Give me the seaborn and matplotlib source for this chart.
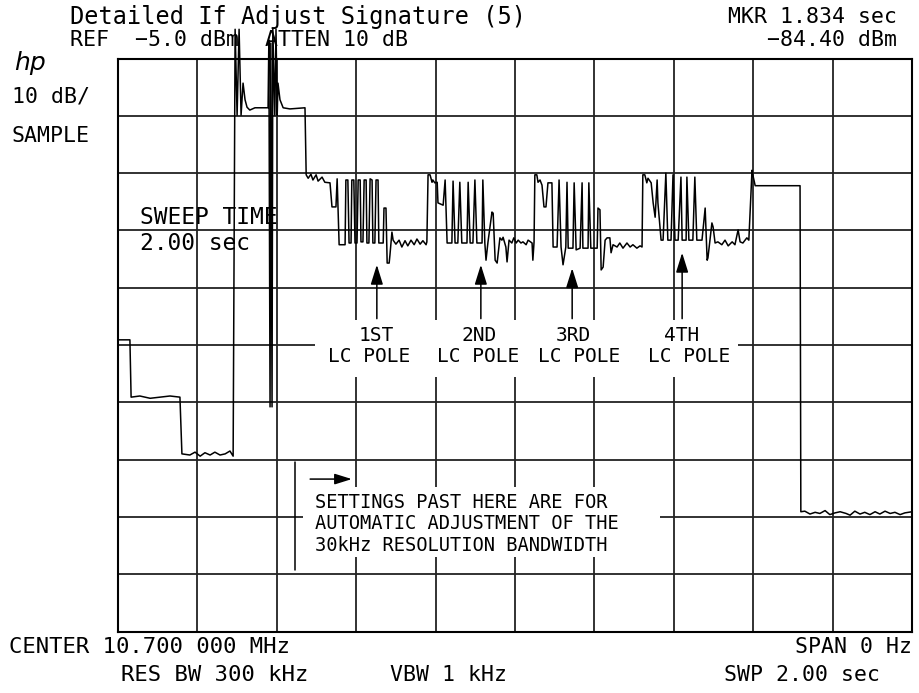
import numpy as np
import pandas as pd
import seaborn as sns
import matplotlib.pyplot as plt
from matplotlib.patches import Rectangle

# trace: sweep time (s) and level (dBm)
sweep_s = [
    0.000, 0.030, 0.033, 0.055, 0.081, 0.106, 0.131, 0.156, 0.161, 0.181,
    0.194, 0.207, 0.219, 0.232, 0.244, 0.257, 0.270, 0.282, 0.290, 0.295,
    0.300, 0.305, 0.310, 0.315, 0.320, 0.325, 0.332, 0.345, 0.378, 0.380,
    0.383, 0.385, 0.388, 0.390, 0.395, 0.398, 0.401, 0.403, 0.408, 0.416,
    0.433, 0.471, 0.474, 0.479, 0.486, 0.491, 0.499, 0.504, 0.514, 0.521,
    0.534, 0.539, 0.549, 0.552, 0.557, 0.572, 0.574, 0.579, 0.582, 0.587,
    0.589, 0.594, 0.597, 0.602, 0.605, 0.610, 0.612, 0.617, 0.620, 0.625,
    0.627, 0.632, 0.635, 0.640, 0.642, 0.647, 0.650, 0.655, 0.657, 0.668,
    0.670, 0.675, 0.678, 0.683, 0.685, 0.690, 0.693, 0.700, 0.708, 0.715,
    0.723, 0.730, 0.738, 0.746, 0.753, 0.761, 0.768, 0.776, 0.778, 0.781,
    0.786, 0.791, 0.793, 0.798, 0.804, 0.806, 0.819, 0.824, 0.829, 0.841,
    0.844, 0.849, 0.856, 0.861, 0.866, 0.879, 0.882, 0.887, 0.894, 0.899,
    0.904, 0.917, 0.919, 0.924, 0.927, 0.932, 0.942, 0.945, 0.950, 0.955,
    0.962, 0.967, 0.970, 0.977, 0.980, 0.985, 0.992, 0.997, 1.003, 1.008,
    1.015, 1.020, 1.028, 1.033, 1.043, 1.045, 1.048, 1.050, 1.055, 1.058,
    1.063, 1.068, 1.073, 1.078, 1.083, 1.093, 1.096, 1.106, 1.111, 1.116,
    1.121, 1.128, 1.131, 1.134, 1.146, 1.149, 1.154, 1.164, 1.169, 1.171,
    1.184, 1.186, 1.191, 1.207, 1.209, 1.214, 1.217, 1.222, 1.227, 1.232,
    1.239, 1.242, 1.247, 1.257, 1.264, 1.272, 1.282, 1.290, 1.297, 1.307,
    1.315, 1.320, 1.322, 1.327, 1.332, 1.335, 1.343, 1.348, 1.353, 1.358,
    1.360, 1.368, 1.373, 1.380, 1.385, 1.393, 1.398, 1.403, 1.411, 1.418,
    1.421, 1.431, 1.433, 1.438, 1.448, 1.453, 1.458, 1.471, 1.479, 1.484,
    1.486, 1.496, 1.499, 1.504, 1.511, 1.521, 1.529, 1.537, 1.547, 1.554,
    1.562, 1.567, 1.574, 1.584, 1.589, 1.597, 1.599, 1.605, 1.713, 1.718,
    1.720, 1.730, 1.743, 1.756, 1.768, 1.781, 1.793, 1.806, 1.819, 1.834,
    1.844, 1.856, 1.869, 1.881, 1.894, 1.907, 1.919, 1.932, 1.945, 1.957,
    1.970, 1.982, 2.000,
]
level_dbm = [
    -54.1, -54.1, -64.1, -63.9, -64.3, -64.1, -63.9, -64.1, -74.0, -74.2,
    -73.7, -74.4, -73.8, -74.2, -73.7, -74.2, -74.0, -73.5, -74.4, 0.1,
    -14.9, 0.1, -14.9, -9.3, -12.2, -13.5, -14.0, -13.6, -13.6, -1.8,
    -65.8, -2.3, -65.8, 0.1, -14.9, 0.1, -14.9, -9.3, -12.2, -13.6,
    -13.8, -13.6, -25.3, -25.9, -25.2, -26.2, -25.3, -26.4, -25.7, -26.6,
    -26.7, -30.9, -30.9, -26.0, -37.5, -37.5, -26.2, -26.2, -37.2, -37.2,
    -26.2, -26.2, -37.2, -37.2, -26.2, -26.2, -37.0, -37.0, -26.2, -26.2,
    -37.2, -37.2, -26.0, -26.2, -37.2, -37.2, -26.2, -26.2, -37.2, -37.2,
    -31.1, -31.1, -40.7, -40.7, -39.3, -35.3, -36.7, -37.4, -36.7, -37.9,
    -36.8, -37.7, -36.7, -37.5, -36.5, -37.4, -36.8, -37.5, -37.0, -25.3,
    -25.3, -26.6, -26.2, -26.7, -26.6, -30.2, -30.6, -26.2, -37.2, -37.2,
    -26.4, -37.2, -37.2, -26.6, -37.2, -37.2, -26.6, -37.2, -37.2, -26.2,
    -37.2, -37.2, -26.2, -37.2, -40.2, -37.0, -31.8, -32.0, -40.2, -40.7,
    -36.3, -36.7, -36.2, -37.9, -40.5, -36.7, -37.2, -36.3, -37.2, -36.7,
    -37.2, -37.0, -37.5, -36.7, -37.2, -40.2, -37.0, -25.3, -25.3, -26.6,
    -26.2, -27.1, -30.9, -30.9, -26.7, -26.7, -37.9, -37.9, -26.2, -37.9,
    -41.0, -37.9, -26.6, -38.1, -38.1, -26.7, -38.4, -38.1, -26.7, -38.1,
    -38.1, -26.7, -38.1, -38.1, -31.1, -31.4, -41.9, -41.4, -36.7, -36.3,
    -36.3, -38.9, -37.5, -37.9, -37.2, -38.1, -37.2, -37.9, -37.5, -38.1,
    -37.7, -37.9, -25.3, -25.3, -26.7, -25.9, -26.7, -30.2, -32.7, -26.2,
    -30.2, -36.7, -36.7, -25.0, -36.7, -36.7, -25.3, -36.7, -36.7, -25.7,
    -36.7, -36.7, -25.7, -36.7, -36.7, -25.7, -36.7, -36.7, -31.1, -40.2,
    -39.8, -33.7, -34.4, -37.2, -37.0, -37.5, -36.7, -37.7, -37.0, -37.5,
    -34.9, -37.0, -37.2, -36.3, -36.7, -24.5, -25.3, -27.2, -27.2, -27.2,
    -84.1, -84.0, -84.5, -84.2, -84.4, -83.9, -84.6, -84.3, -84.1, -84.4,
    -84.7, -84.0, -84.5, -84.2, -84.6, -84.1, -84.5, -84.0, -84.4, -84.2,
    -84.6, -84.3, -84.1,
]

# LC pole markers
pole_labels = ["1ST", "2ND", "3RD", "4TH"]
pole_s = [0.652, 0.914, 1.144, 1.421]
pole_tip_dbm = [-41.0, -41.0, -41.6, -38.9]
pole_label_s = [0.650, 0.910, 1.146, 1.420]
lc_label_s = [0.632, 0.907, 1.161, 1.438]

settings_lines = ["SETTINGS PAST HERE ARE FOR",
                  "AUTOMATIC ADJUSTMENT OF THE",
                  "30kHz RESOLUTION BANDWIDTH"]

df = pd.DataFrame({"sweep": sweep_s, "level": level_dbm})

sns.set_style("white")
plt.rcParams['font.family'] = ['DejaVu Sans Mono', 'DejaVu Sans']
plt.rcParams['text.color'] = 'black'

W, H = 920, 693
fig = plt.figure(figsize=(W / 100, H / 100), dpi=100)
ax = fig.add_axes([118 / W, (H - 631.5) / H, 794 / W, 573 / H])
ax.set_xlim(0, 2)
ax.set_ylim(-105, -5)
ax.set_xticks(np.linspace(0, 2, 11))
ax.set_yticks(np.linspace(-105, -5, 11))
ax.tick_params(length=0, labelbottom=False, labelleft=False)
ax.set_axisbelow(True)
ax.grid(True, color='#222222', lw=1.3)
for s in ax.spines.values():
    s.set_color('black')
    s.set_linewidth(1.5)

# blank out graticule behind the annotation text
ax.add_patch(Rectangle((0.496, -60.6), 1.066, 10.0, fc='white', ec='none', zorder=1))
ax.add_patch(Rectangle((0.466, -92.0), 0.899, 12.2, fc='white', ec='none', zorder=1))

sns.lineplot(data=df, x="sweep", y="level", sort=False, estimator=None,
             color='black', lw=1.1, ax=ax, zorder=3)
for ln in ax.lines:
    ln.set_clip_on(False)
ax.set_xlabel("")
ax.set_ylabel("")

arrow = dict(arrowstyle='-|>,head_length=0.8,head_width=0.25', color='black',
             lw=1.1, shrinkA=0, shrinkB=0, mutation_scale=15)
for x, tip in zip(pole_s, pole_tip_dbm):
    ax.annotate('', xy=(x, tip), xytext=(x, -50.4), arrowprops=arrow, zorder=4)
for lab, xl, xc in zip(pole_labels, pole_label_s, lc_label_s):
    ax.text(xl, -53.3, lab, ha='center', va='center', fontsize=14, zorder=4)
    ax.text(xc, -57.0, "LC POLE", ha='center', va='center', fontsize=14, zorder=4)

# settings note
ax.plot([0.446, 0.446], [-75.4, -94.3], color='black', lw=1.1, zorder=4)
ax.annotate('', xy=(0.589, -78.4), xytext=(0.484, -78.4),
            arrowprops=dict(arrow, mutation_scale=13), zorder=4)
for i, line in enumerate(settings_lines):
    ax.text(0.496, -82.4 - 3.8 * i, line, ha='left', va='center',
            fontsize=13.5, zorder=4)


def ftext(x, y, s, size=15.5, ha='left', **kw):
    fig.text(x / W, 1 - y / H, s, fontsize=size, ha=ha, va='center', **kw)


ftext(70, 17, "Detailed If Adjust Signature (5)", 17)
ftext(70, 40, "REF  \u22125.0 dBm  ATTEN 10 dB")
ftext(897, 17, "MKR 1.834 sec", ha='right')
ftext(897, 40, "\u221284.40 dBm", ha='right')
ftext(14, 63, "hp", 18, family='DejaVu Sans', style='italic')
ftext(12, 96, "10 dB/")
ftext(12, 136, "SAMPLE")
ftext(140, 217, "SWEEP TIME", 16.5)
ftext(140, 243, "2.00 sec", 16.5)
ftext(9, 647, "CENTER 10.700 000 MHz", 16)
ftext(912, 647, "SPAN 0 Hz", ha='right')
ftext(121, 675, "RES BW 300 kHz", 16)
ftext(390, 675, "VBW 1 kHz")
ftext(880, 675, "SWP 2.00 sec", ha='right')

fig.savefig("out.png", dpi=100, facecolor='white')
